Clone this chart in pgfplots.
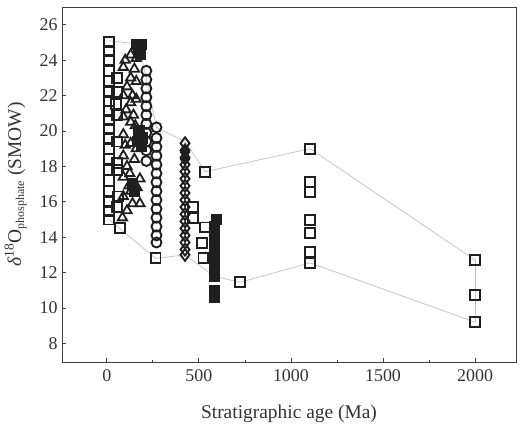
\documentclass[border=0pt]{standalone}
\usepackage{pgfplots}
\pgfplotsset{compat=1.18}
\usepackage{fontspec}
\setmainfont{Liberation Serif}
\begin{document}
\begin{tikzpicture}
\begin{axis}[
  scale only axis, width=454bp, height=355bp,
  xmin=-243, xmax=2222, ymin=6.95, ymax=27.0,
  xtick={0,500,1000,1500,2000}, minor x tick num=1,
  ytick={8,10,...,26},
  tick align=inside, xtick pos=left, ytick pos=left,
  major tick length=4bp, minor tick length=2.5bp,
  axis line style={black!75, line width=0.9pt},
  tick style={black!75, line width=0.7pt},
  /pgf/number format/assume math mode=true,
  /pgf/number format/1000 sep={},
  tick label style={font=\fontsize{18}{20}\selectfont, text=black!80},
  xticklabel style={yshift=-4bp},
  yticklabel style={xshift=-1bp},
  label style={font=\fontsize{19.5}{22}\selectfont, text=black!80},
  xlabel={Stratigraphic age (Ma)},
  ylabel={\textit{δ}\textsuperscript{18}O\textsubscript{\fontsize{12}{12}\selectfont phosphate} (SMOW)},
  xlabel style={yshift=-17bp},
  ylabel style={yshift=6bp},
  clip=false,
]
% envelope lines
\addplot[gray!45, line width=0.8pt, no marks] coordinates {(10,25.1)(175,24.9)(270,20.2)(425,19.4)(535,17.7)(1104,19.0)(2000,12.7)};
\addplot[gray!45, line width=0.8pt, no marks] coordinates {(10,15.0)(70,14.5)(265,12.8)(425,13.0)(583,11.8)(724,11.45)(1104,12.55)(2000,9.2)};
\addplot[gray!45, line width=0.8pt, no marks] coordinates {(2000,12.7)(2000,9.2)};
% open squares near 0
\addplot[only marks, mark=square, mark size=5pt, mark options={line width=1.9pt, draw=black!88, fill=white}] coordinates {
(10,25.0)(10,24.5)(10,24.0)(10,23.4)(10,22.8)(10,22.2)(10,21.7)(10,21.1)(10,20.6)(10,20.1)(10,19.6)(10,19.0)(10,18.4)(10,17.8)(10,17.2)(10,16.6)(10,16.0)(10,15.5)(10,15.0)
(55,23.0)(55,22.2)(50,21.5)(55,20.9)(55,19.4)(55,18.2)(55,17.8)(60,16.3)(55,15.7)(70,14.5)};
% open triangles
\addplot[only marks, mark=triangle, mark size=5.4pt, mark options={line width=1.8pt, draw=black!88, fill=white}] coordinates {
(90,23.6)(90,22.0)(90,20.8)(90,19.8)(90,18.6)(90,17.4)(90,16.3)(85,15.1)
(130,24.3)(130,23.0)(130,21.6)(130,20.5)(130,19.3)(125,17.6)(130,16.6)(140,15.9)
(160,24.1)(160,22.8)(160,21.8)(155,20.3)(160,19.0)(180,17.3)(180,15.9)(110,22.5)(110,18.0)(110,15.5)(150,23.5)
(105,21.2)(145,20.9)(100,19.2)(150,18.4)(120,16.9)(165,16.8)(100,24.0)(140,22.0)};
% filled squares
\addplot[only marks, mark=square*, mark size=5pt, mark options={line width=1.2pt, draw=black!88, fill=black!88}] coordinates {
(160,24.9)(190,24.9)(175,24.6)(185,24.3)(175,20.0)(195,19.6)(165,19.4)(190,19.1)(140,17.0)(150,16.6)};
% open circles
\addplot[only marks, mark=o, mark size=5pt, mark options={line width=1.9pt, draw=black!88, fill=white}] coordinates {
(215,23.4)(215,22.9)(215,22.4)(215,21.9)(215,21.4)(215,20.9)(215,20.4)(215,19.9)(215,19.4)(215,18.9)(215,18.3)
(270,20.2)(270,19.6)(270,19.1)(270,18.6)(270,18.1)(270,17.6)(270,17.1)(270,16.6)(270,16.1)(270,15.6)(270,15.1)(270,14.6)(270,14.1)(270,13.7)};
% open diamonds
\addplot[only marks, mark=diamond, mark size=6pt, mark options={line width=1.9pt, draw=black!88, fill=white}] coordinates {
(425,19.3)(425,18.9)(425,18.5)(425,18.1)(425,17.7)(425,17.3)(425,16.9)(425,16.5)(425,16.1)(425,15.7)(425,15.3)(425,14.9)(425,14.5)(425,14.1)(425,13.7)(425,13.3)(425,13.0)};
\addplot[only marks, mark=diamond*, mark size=6pt, mark options={line width=1.2pt, draw=black!88, fill=black!88}] coordinates {(425,18.8)(425,18.4)};
% open squares, older
\addplot[only marks, mark=square, mark size=5pt, mark options={line width=1.9pt, draw=black!88, fill=white}] coordinates {
(265,12.8)(535,17.7)(470,15.7)(470,15.1)(535,14.55)(517,13.65)(525,12.8)(724,11.45)
(1104,19.0)(1104,17.1)(1104,16.55)(1104,14.97)(1104,14.25)(1104,13.15)(1104,12.55)
(2000,12.7)(2000,10.75)(2000,9.2)};
% filled squares near 580
\addplot[only marks, mark=square*, mark size=5pt, mark options={line width=1.2pt, draw=black!88, fill=black!88}] coordinates {
(595,15.0)(583,14.6)(583,14.2)(583,13.8)(583,13.4)(583,13.0)(583,12.6)(583,12.2)(583,11.8)(583,11.0)(583,10.6)};
\end{axis}
\path (current axis.south west) ++(-62bp,-68bp) coordinate (bbsw);
\useasboundingbox (bbsw) rectangle ++(520bp,430bp);
\end{tikzpicture}
\end{document}
